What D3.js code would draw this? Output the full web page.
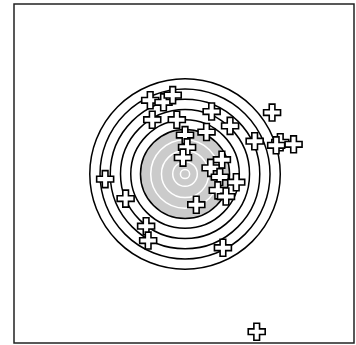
<!DOCTYPE html>
<html>
<head>
<meta charset="utf-8">
<script src="https://cdn.jsdelivr.net/npm/d3@7"></script>
<style>
  html, body { margin: 0; padding: 0; background: #fff; }
  svg { display: block; }
</style>
</head>
<body>
<div id="chart"></div>
<script>
'use strict';

// Target rings (radius in target units), outer to inner
const blackRings = [9.3, 8.3, 7.3, 6.3, 5.3];
const bullRadius = 4.35;
const whiteRings = [3.35, 2.3, 1.2, 0.45];

// Shot positions (target units, centre = 0,0)
const shotX = [-3.4, -2.1, -1.2, -3.2, -0.8, 2.6, 4.4, 8.5, 2.1, 0.0,
               6.8, 9.3, 8.9, 10.6, 0.2, -0.2, 3.6, 2.5, 3.4, 5.0,
               3.2, 4.0, -7.8, -5.8, 1.1, -3.8, -3.6, 3.7, 7.0];
const shotY = [7.2, 7.0, 7.7, 5.3, 5.3, 6.1, 4.7, 6.0, 4.1, 3.8,
               3.2, 3.1, 2.8, 2.9, 2.6, 1.6, 1.4, 0.6, -0.3, -0.8,
               -1.6, -2.2, -0.5, -2.4, -3.0, -5.1, -6.5, -7.2, -15.4];

const width = 356, height = 345;
const frame = { left: 14, right: 354, top: 4, bottom: 343 };

const svg = d3.select('#chart').append('svg')
    .attr('width', width)
    .attr('height', height);

const x = d3.scaleLinear().domain([-16.7, 16.5]).range([frame.left, frame.right]);
const y = d3.scaleLinear().domain([-16.5, 16.6]).range([frame.bottom, frame.top]);
const k = x(1) - x(0);

const target = svg.append('g');

// White scoring rings with black outlines
target.selectAll('circle.ring')
    .data(blackRings)
    .join('circle')
    .classed('ring', true)
    .attr('cx', x(0))
    .attr('cy', y(0))
    .attr('r', d => d * k)
    .attr('fill', '#fff')
    .attr('stroke', '#000')
    .attr('stroke-width', 1.5);

// Grey bull
target.append('circle')
    .attr('cx', x(0))
    .attr('cy', y(0))
    .attr('r', bullRadius * k)
    .attr('fill', '#cbcbcb')
    .attr('stroke', '#000')
    .attr('stroke-width', 1.5);

target.selectAll('circle.inner')
    .data(whiteRings)
    .join('circle')
    .classed('inner', true)
    .attr('cx', x(0))
    .attr('cy', y(0))
    .attr('r', d => d * k)
    .attr('fill', 'none')
    .attr('stroke', '#fff')
    .attr('stroke-width', 1.5);

// Shots as filled plus markers
const cross = d3.symbol().type(d3.symbolCross).size(160);
svg.append('g').selectAll('path')
    .data(shotX.map((d, i) => [d, shotY[i]]))
    .join('path')
    .attr('d', cross)
    .attr('transform', d => `translate(${x(d[0])},${y(d[1])})`)
    .attr('fill', '#fff')
    .attr('stroke', '#000')
    .attr('stroke-width', 1.6);

// Axes frame
svg.append('rect')
    .attr('x', frame.left)
    .attr('y', frame.top)
    .attr('width', frame.right - frame.left)
    .attr('height', frame.bottom - frame.top)
    .attr('fill', 'none')
    .attr('stroke', '#222')
    .attr('stroke-width', 1.5);
</script>
</body>
</html>
